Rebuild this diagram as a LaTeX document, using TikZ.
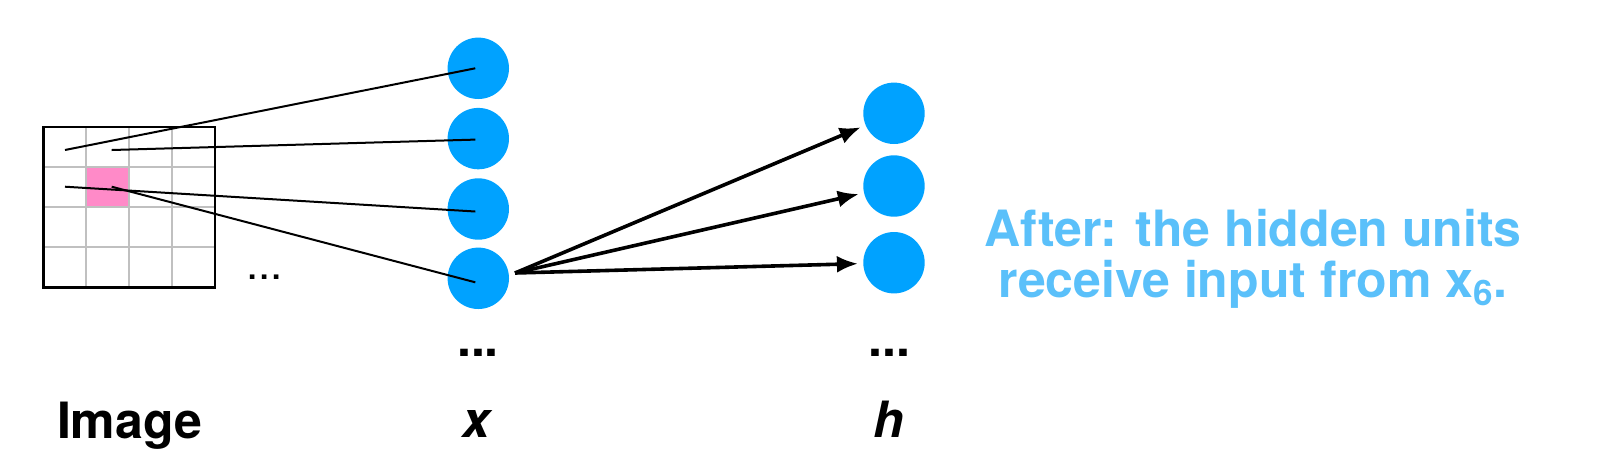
\documentclass[tikz,border=0pt]{standalone}
\usepackage{fontspec}
\setmainfont{TeX Gyre Heros}
\usetikzlibrary{arrows.meta,positioning,calc}
\definecolor{unitblue}{RGB}{0,162,255}
\definecolor{noteblue}{RGB}{90,192,250}
\definecolor{patchpink}{RGB}{255,138,200}
\definecolor{gridgray}{RGB}{192,192,192}

\begin{document}
\begin{tikzpicture}[x=.5pt,y=-.5pt,
  font=\fontsize{25}{25.5}\selectfont\bfseries,
  unit/.style={circle,fill=unitblue,minimum size=30.7pt,inner sep=0pt},
  gridline/.style={draw=gridgray,line width=1.1pt},
  frame/.style={draw=black,line width=1.2pt},
  link/.style={draw=black,line width=1pt},
  fan/.style={-{Latex[length=10.5pt,width=8.5pt]},draw=black,line width=1.8pt,shorten >=2.5pt},
  dots/.style={inner sep=0pt},
  label/.style={anchor=base,inner sep=0pt},
  note/.style={text=noteblue,align=center,inner sep=0pt}]

\path[use as bounding box] (0,0) rectangle (1614,473);
% image grid with the highlighted pixel
\fill[patchpink] (86.7,166.9) rectangle (129.3,207.1);
\foreach \i in {1,2,3}{
  \draw[gridline] (43.3+42.9*\i,126.7) -- ++(0,160.6);
  \draw[gridline] (43.3,126.7+40.15*\i) -- ++(171.7,0);
}
\draw[frame] (43.3,126.7) rectangle (215,287.3);
\coordinate (p11) at (65,150);
\coordinate (p12) at (111.7,150);
\coordinate (p21) at (65,186.7);
\coordinate (p22) at (111.7,186.7);
\node[dots,font=\fontsize{22}{22}\selectfont] (imgdots) at (264.5,277) {...};

% input units x and hidden units h
\foreach \i/\yy in {1/68.3,2/138.6,3/209,4/278.3}
  \node[unit] (x\i) at (478.3,\yy) {};
\foreach \i/\yy in {1/113.3,2/186,3/262.7}
  \node[unit] (h\i) at (894,\yy) {};
\draw[link] (p11) -- ($(x1.center)+(-3,0)$);
\draw[link] (p12) -- ($(x2.center)+(-3,1)$);
\draw[link] (p21) -- ($(x3.center)+(-3,2.5)$);
\draw[link] (p22) -- ($(x4.center)+(-3,4)$);
\coordinate (src) at (515,273);
\foreach \i in {1,2,3}
  \draw[fan] (src) -- (h\i);
\node[dots] (xdots) at (478,353) {...};
\node[dots] (hdots) at (889.5,353) {...};

% labels
\node[label] (imglab) at (129.5,438) {Image};
\node[label] (xlab) at (476,437) {\itshape x};
\node[label] (hlab) at (889,437) {\itshape h};
\node[note,anchor=north] (after) at (1253,209)
  {After: the hidden units\\receive input from x\textsubscript{6}.};

\end{tikzpicture}
\end{document}
